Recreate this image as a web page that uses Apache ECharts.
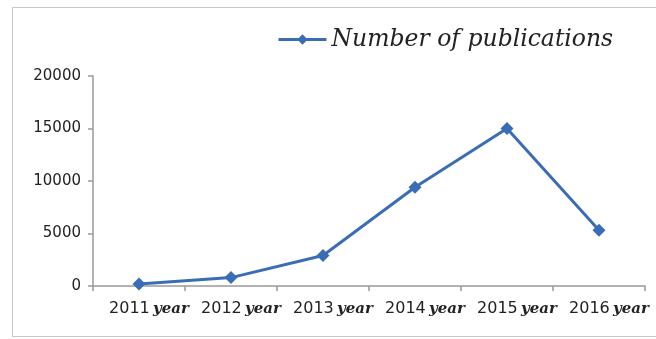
<!DOCTYPE html>
<html>
<head>
<meta charset="utf-8">
<script src="https://cdn.jsdelivr.net/npm/echarts@6/dist/echarts.min.js"></script>
<style>
  html, body { margin: 0; padding: 0; background: #fff; }
  #frame { position: absolute; left: 12px; top: 7px; width: 660px; height: 330px; border: 1px solid #c8c8c8; box-sizing: border-box; }
  #chart { position: absolute; left: 0; top: 0; width: 656px; height: 339px; }
</style>
</head>
<body>
<div id="frame"></div>
<div id="chart"></div>
<script>
// Yearly publication counts
const years = ['2011', '2012', '2013', '2014', '2015', '2016'];
const publications = [200, 800, 2900, 9400, 15000, 5300];
const yTicks = [0, 5000, 10000, 15000, 20000];
const seriesName = 'Number of publications';

const blue = '#3a6db5';
const chart = echarts.init(document.getElementById('chart'), null, { renderer: 'canvas' });

chart.setOption({
  animation: false,
  backgroundColor: 'transparent',
  legend: {
    data: [seriesName],
    top: 23,
    left: 272,
    itemWidth: 48,
    itemHeight: 13,
    itemGap: 8,
    lineStyle: { width: 3 },
    textStyle: {
      fontFamily: 'DejaVu Serif',
      fontStyle: 'italic',
      fontSize: 23.5,
      color: '#222'
    }
  },
  grid: { left: 93, right: 11, top: 76, bottom: 53, containLabel: false },
  xAxis: {
    type: 'category',
    data: years,
    boundaryGap: true,
    axisLine: { lineStyle: { color: '#9a9a9a', width: 1.5 } },
    axisTick: { show: true, length: 5, lineStyle: { color: '#9a9a9a', width: 1.5 } },
    axisLabel: {
      interval: 0,
      margin: 15,
      padding: [0, 0, 0, 20],
      formatter: v => '{n|' + v + '} {y|year}',
      rich: {
        n: { fontFamily: 'DejaVu Sans', fontSize: 16, color: '#222' },
        y: { fontFamily: 'DejaVu Serif', fontStyle: 'italic', fontWeight: 'bold', fontSize: 15, color: '#222' }
      }
    }
  },
  yAxis: {
    type: 'value',
    min: yTicks[0],
    max: yTicks[yTicks.length - 1],
    interval: yTicks[1] - yTicks[0],
    splitLine: { show: false },
    axisLine: { show: true, lineStyle: { color: '#9a9a9a', width: 1.5 } },
    axisTick: { show: true, length: 5, lineStyle: { color: '#9a9a9a', width: 1.5 } },
    axisLabel: { margin: 12, fontFamily: 'DejaVu Sans', fontSize: 15, color: '#222', formatter: v => String(v) }
  },
  series: [{
    name: seriesName,
    type: 'line',
    data: publications,
    symbol: 'diamond',
    symbolSize: 13,
    lineStyle: { color: blue, width: 3 },
    itemStyle: { color: blue }
  }]
});
</script>
</body>
</html>
